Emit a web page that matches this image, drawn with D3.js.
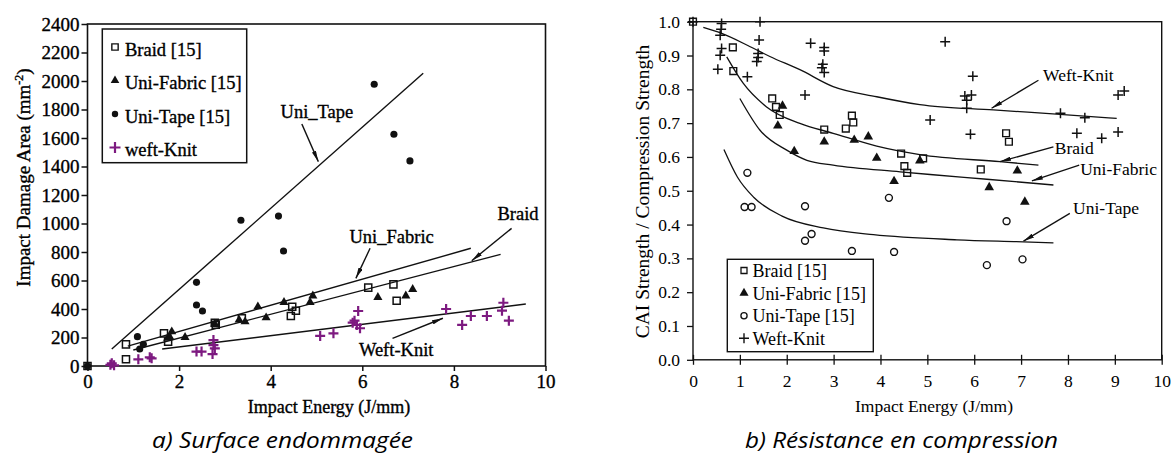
<!DOCTYPE html>
<html><head><meta charset="utf-8">
<script src="https://cdn.jsdelivr.net/npm/d3@7"></script>
<style>
body{margin:0;background:#fff}
svg{display:block}
text{font-family:"Liberation Serif","Times New Roman",serif;fill:#000}
.bold text, text.bold{stroke:#000;stroke-width:0.35px}
</style>
</head><body>
<svg id="c" width="1173" height="457"></svg>
<script>
// ===== Left chart: Impact Damage Area (mm^2) vs Impact Energy (J/mm) =====
const braidArea = [[0,0],[0.84,47],[0.84,152],[1.67,229],[1.76,171],[2.78,304],[2.8,290],[3.37,335],[4.44,351],[4.47,416],[4.55,388],[6.13,550],[6.68,573],[6.75,458]];
const fabricArea = [[1.75,195],[1.8,201],[1.84,241],[2.13,201],[2.78,295],[3.31,323],[3.44,311],[3.72,416],[3.9,339],[4.29,447],[4.86,447],[4.92,493],[6.34,482],[6.95,493],[7.1,538]];
const tapeArea = [[0,0],[1.09,206],[1.14,119],[1.22,152],[2.38,587],[2.38,428],[2.51,386],[3.35,1023],[4.17,1052],[4.28,807],[6.26,1977],[6.69,1626],[7.04,1439]];
const weftArea = [[0.5,8],[0.53,19],[0.58,5],[1.11,47],[1.36,61],[1.4,54],[2.38,101],[2.49,101],[2.73,84],[2.75,147],[2.75,182],[2.78,124],[5.08,211],[5.37,229],[5.79,304],[5.83,318],[5.88,288],[5.91,386],[5.95,265],[7.83,400],[8.18,288],[8.37,351],[8.72,351],[9.05,388],[9.08,444],[9.2,318]];
const tapeFit = [[0.53,119],[7.33,2054]];
const fabricFit = [[0.88,140],[8.37,826]];
const braidFit = [[1.0,112],[9.02,783]];
const weftFit = [[1.63,119],[9.57,435]];
const leftXTicks = [0,2,4,6,8,10];
const leftYTicks = [0,200,400,600,800,1000,1200,1400,1600,1800,2000,2200,2400];
const leftLegend = ["Braid [15]","Uni-Fabric [15]","Uni-Tape [15]","weft-Knit"];
// annotations: label position, arrow from, arrow to (data units)
const leftNotes = [
  {t:"Uni_Tape", at:[5.01,1743], from:[4.68,1698], to:[5.04,1434]},
  {t:"Uni_Fabric", at:[6.64,865], from:[6.17,826], to:[5.86,615]},
  {t:"Braid", at:[9.4,1025], from:[9.26,966], to:[8.39,739]},
  {t:"Weft-Knit", at:[6.74,70], from:[6.66,194], to:[7.76,335]}
];

// ===== Right chart: CAI Strength / Compression Strength =====
const braidCAI = [[0,1.0],[0.85,0.924],[0.86,0.854],[1.69,0.773],[1.77,0.748],[1.85,0.724],[2.8,0.681],[3.26,0.684],[3.39,0.722],[3.42,0.702],[4.44,0.61],[4.51,0.573],[4.57,0.553],[4.91,0.596],[6.14,0.563],[6.68,0.67],[6.74,0.645]];
const fabricCAI = [[1.81,0.692],[1.91,0.751],[2.16,0.617],[2.8,0.645],[3.44,0.65],[3.74,0.66],[3.92,0.597],[4.29,0.528],[4.84,0.589],[6.32,0.51],[6.92,0.559],[7.08,0.467]];
const tapeCAI = [[1.1,0.452],[1.16,0.553],[1.25,0.452],[2.39,0.454],[2.39,0.352],[2.53,0.372],[3.39,0.322],[4.18,0.479],[4.29,0.319],[6.27,0.28],[6.69,0.41],[7.03,0.297]];
const weftCAI = [[0,1.0],[0.53,0.859],[0.58,0.96],[0.58,0.901],[0.6,0.978],[0.61,0.995],[0.61,0.921],[1.16,0.837],[1.36,0.882],[1.39,0.894],[1.39,0.906],[1.41,0.946],[1.43,1.0],[2.39,0.783],[2.51,0.936],[2.75,0.864],[2.77,0.874],[2.8,0.85],[2.8,0.913],[2.8,0.924],[5.06,0.709],[5.38,0.941],[5.8,0.78],[5.84,0.768],[5.84,0.744],[5.92,0.667],[5.94,0.783],[5.97,0.839],[7.84,0.729],[8.19,0.67],[8.36,0.716],[8.72,0.655],[9.07,0.674],[9.07,0.783],[9.2,0.795]];
const weftCurve = [[0.22,0.983],[0.6,0.966],[1.22,0.926],[1.64,0.897],[2.28,0.858],[2.99,0.808],[3.92,0.778],[4.84,0.755],[6.41,0.739],[7.83,0.726],[9.04,0.714]];
const braidCurve = [[0.72,0.896],[1.07,0.818],[1.57,0.748],[2.28,0.699],[2.99,0.67],[3.92,0.632],[4.84,0.607],[6.55,0.586],[7.37,0.576]];
const fabricCurve = [[1.0,0.773],[1.43,0.679],[2.0,0.62],[2.43,0.59],[2.99,0.576],[4.42,0.556],[5.06,0.548],[6.27,0.534],[7.69,0.517]];
const tapeCurve = [[0.66,0.622],[0.95,0.54],[1.3,0.48],[1.9,0.425],[2.78,0.39],[3.85,0.37],[5.63,0.355],[7.05,0.349],[7.69,0.346]];
const rightXTicks = [0,1,2,3,4,5,6,7,8,9,10];
const rightYTicks = [0,0.1,0.2,0.3,0.4,0.5,0.6,0.7,0.8,0.9,1.0];
const rightLegend = ["Braid [15]","Uni-Fabric [15]","Uni-Tape [15]","Weft-Knit"];
const rightNotes = [
  {t:"Weft-Knit", at:[7.47,0.824], from:[7.37,0.827], to:[6.37,0.744]},
  {t:"Braid", at:[7.72,0.61], from:[7.69,0.63], to:[6.55,0.586]},
  {t:"Uni-Fabric", at:[8.26,0.548], from:[8.24,0.576], to:[7.23,0.529]},
  {t:"Uni-Tape", at:[8.11,0.43], from:[8.04,0.433], to:[7.05,0.351]}
];

const captions = ["a) Surface endommagée","b) Résistance en compression"];

const svg = d3.select("#c");
const ink = "#111", purple = "#7d1a80";

const defs = svg.append("defs");
defs.append("marker").attr("id","ah").attr("viewBox","0 0 11 4.4")
  .attr("refX",11).attr("refY",2.2).attr("markerWidth",11).attr("markerHeight",4.4)
  .attr("markerUnits","userSpaceOnUse").attr("orient","auto")
  .append("path").attr("d","M0,0L11,2.2L0,4.4Z").attr("fill",ink);

const plusPath = s => `M${-s},0H${s}M0,${-s}V${s}`;

function drawMarkers(g, data, x, y, kind, opt){
  const sel = g.append("g").selectAll("path").data(data).join("path")
    .attr("transform", d => `translate(${x(d[0])},${y(d[1])})`);
  if(kind==="square") sel.attr("d", d3.symbol(d3.symbolSquare, opt.size)()).attr("fill","none").attr("stroke",ink).attr("stroke-width",opt.sw||1.4);
  if(kind==="tri") sel.attr("d", d3.symbol(d3.symbolTriangle, opt.size)()).attr("fill",ink);
  if(kind==="dot") sel.attr("d", d3.symbol(d3.symbolCircle, opt.size)()).attr("fill",ink);
  if(kind==="ring") sel.attr("d", d3.symbol(d3.symbolCircle, opt.size)()).attr("fill","none").attr("stroke",ink).attr("stroke-width",1.4);
  if(kind==="plus") sel.attr("d", plusPath(opt.r)).attr("fill","none").attr("stroke",opt.color).attr("stroke-width",opt.sw);
}

// ---------------- LEFT ----------------
const xL = d3.scaleLinear([0,10],[87.5,545.5]);
const yL = d3.scaleLinear([0,2400],[366,24]);
const gL = svg.append("g").attr("class","bold");

const axL = gL.append("g").attr("transform","translate(87.5,0)")
  .call(d3.axisLeft(yL).tickValues(leftYTicks).tickSize(6).tickPadding(2).tickFormat(d3.format("d")));
const axB = gL.append("g").attr("transform","translate(0,366)")
  .call(d3.axisBottom(xL).tickValues(leftXTicks).tickSize(5).tickPadding(4).tickFormat(d3.format("d")));
[axL,axB].forEach(a=>{a.select(".domain").remove();a.selectAll("line").attr("stroke",ink).attr("stroke-width",1.5);
  a.selectAll("text").style("font-family",'"Liberation Serif",serif').style("font-size","19px").attr("fill","#000");});
gL.append("rect").attr("x",xL(0)).attr("y",yL(2400)).attr("width",xL(10)-xL(0)).attr("height",yL(0)-yL(2400))
  .attr("fill","none").attr("stroke",ink).attr("stroke-width",1.6);

const lineL = d3.line().x(d=>xL(d[0])).y(d=>yL(d[1]));
[tapeFit,fabricFit,braidFit,weftFit].forEach(f=>gL.append("path").attr("d",lineL(f)).attr("fill","none").attr("stroke",ink).attr("stroke-width",1.4));

drawMarkers(gL, weftArea, xL, yL, "plus", {r:5, color:purple, sw:2.2});
drawMarkers(gL, braidArea, xL, yL, "square", {size:50, sw:1.5});
drawMarkers(gL, fabricArea, xL, yL, "tri", {size:36});
drawMarkers(gL, tapeArea, xL, yL, "dot", {size:40});

leftNotes.forEach(n=>{
  gL.append("text").attr("x",xL(n.at[0])).attr("y",yL(n.at[1])).attr("text-anchor","middle").style("font-size","18.5px").text(n.t);
  gL.append("line").attr("x1",xL(n.from[0])).attr("y1",yL(n.from[1])).attr("x2",xL(n.to[0])).attr("y2",yL(n.to[1]))
    .attr("stroke",ink).attr("stroke-width",1.4).attr("marker-end","url(#ah)");
});

// legend left
gL.append("rect").attr("x",102.3).attr("y",29).attr("width",144.4).attr("height",133.7).attr("fill","#fff").attr("stroke",ink).attr("stroke-width",1.5);
const lgL = gL.append("g").selectAll("g").data(leftLegend).join("g").attr("transform",(d,i)=>`translate(115,${47+i*33.5})`);
lgL.append("text").attr("x",10).attr("y",8.5).style("font-size","18.5px").text(d=>d);
lgL.filter((d,i)=>i===0).append("path").attr("d",d3.symbol(d3.symbolSquare,40)()).attr("fill","none").attr("stroke",ink).attr("stroke-width",1.4);
lgL.filter((d,i)=>i===1).append("path").attr("d",d3.symbol(d3.symbolTriangle,32)()).attr("fill",ink);
lgL.filter((d,i)=>i===2).append("path").attr("d",d3.symbol(d3.symbolCircle,32)()).attr("fill",ink);
lgL.filter((d,i)=>i===3).append("path").attr("d",plusPath(5.5)).attr("stroke",purple).attr("stroke-width",2.2);

// axis titles left
gL.append("text").attr("x",329).attr("y",413).attr("text-anchor","middle").style("font-size","18px").text("Impact Energy (J/mm)");
const ytL = gL.append("text").attr("transform","translate(30,177.5) rotate(-90)").attr("text-anchor","middle").style("font-size","19px");
ytL.append("tspan").text("Impact Damage Area (mm");
ytL.append("tspan").attr("dy",-7).style("font-size","12px").text("-2");
ytL.append("tspan").attr("dy",7).text(")");

// ---------------- RIGHT ----------------
const xR = d3.scaleLinear([0,10],[693,1161.7]);
const yR = d3.scaleLinear([0,1],[359.8,21.7]);
const gR = svg.append("g");
const axRL = gR.append("g").attr("transform",`translate(${xR(0)},0)`)
  .call(d3.axisLeft(yR).tickValues(rightYTicks).tickSize(6).tickPadding(7).tickFormat(d3.format(".1f")));
const axRB = gR.append("g").attr("transform",`translate(0,${yR(0)})`)
  .call(d3.axisBottom(xR).tickValues(rightXTicks).tickSize(5).tickPadding(10).tickFormat(d3.format("d")));
axRB.selectAll(".tick line").attr("y1",-5).attr("y2",5);
[axRL,axRB].forEach(a=>{a.select(".domain").remove();a.selectAll("line").attr("stroke",ink).attr("stroke-width",1.3);
  a.selectAll("text").style("font-family",'"Liberation Serif",serif').style("font-size","17.5px").attr("fill","#000");});
gR.append("rect").attr("x",xR(0)).attr("y",yR(1)).attr("width",xR(10)-xR(0)).attr("height",yR(0)-yR(1))
  .attr("fill","none").attr("stroke",ink).attr("stroke-width",1.4);

const curveR = d3.line().x(d=>xR(d[0])).y(d=>yR(d[1])).curve(d3.curveMonotoneX);
[weftCurve,braidCurve,fabricCurve,tapeCurve].forEach(c=>gR.append("path").attr("d",curveR(c)).attr("fill","none").attr("stroke",ink).attr("stroke-width",1.3));

drawMarkers(gR, weftCAI, xR, yR, "plus", {r:5, color:ink, sw:1.5});
drawMarkers(gR, braidCAI, xR, yR, "square", {size:46, sw:1.4});
drawMarkers(gR, fabricCAI, xR, yR, "tri", {size:40});
drawMarkers(gR, tapeCAI, xR, yR, "ring", {size:38});

rightNotes.forEach(n=>{
  gR.append("text").attr("x",xR(n.at[0])).attr("y",yR(n.at[1])).style("font-size","17.5px").text(n.t);
  gR.append("line").attr("x1",xR(n.from[0])).attr("y1",yR(n.from[1])).attr("x2",xR(n.to[0])).attr("y2",yR(n.to[1]))
    .attr("stroke",ink).attr("stroke-width",1.3).attr("marker-end","url(#ah)");
});

gR.append("rect").attr("x",727.3).attr("y",259.3).attr("width",146).attr("height",92.4).attr("fill","#fff").attr("stroke",ink).attr("stroke-width",1.4);
const lgR = gR.append("g").selectAll("g").data(rightLegend).join("g").attr("transform",(d,i)=>`translate(744,${270.5+i*22.6})`);
lgR.append("text").attr("x",8.5).attr("y",6.5).style("font-size","18px").text(d=>d);
lgR.filter((d,i)=>i===0).append("path").attr("d",d3.symbol(d3.symbolSquare,36)()).attr("fill","none").attr("stroke",ink).attr("stroke-width",1.3);
lgR.filter((d,i)=>i===1).append("path").attr("d",d3.symbol(d3.symbolTriangle,36)()).attr("fill",ink);
lgR.filter((d,i)=>i===2).append("path").attr("d",d3.symbol(d3.symbolCircle,30)()).attr("fill","none").attr("stroke",ink).attr("stroke-width",1.3);
lgR.filter((d,i)=>i===3).append("path").attr("d",plusPath(5)).attr("stroke",ink).attr("stroke-width",1.4);

gR.append("text").attr("x",934).attr("y",412).attr("text-anchor","middle").style("font-size","17.5px").text("Impact Energy (J/mm)");
gR.append("text").attr("transform","translate(649,191.5) rotate(-90)").attr("text-anchor","middle").style("font-size","19.5px").text("CAI Strength / Compression Strength");

// ---------------- CAPTIONS ----------------
svg.selectAll("text.cap").data(captions).join("text").attr("class","cap")
  .attr("x",(d,i)=>i===0?282.5:901.5).attr("y",448).attr("text-anchor","middle")
  .attr("textLength",(d,i)=>i===0?261:313).attr("lengthAdjust","spacingAndGlyphs")
  .style("font-family",'"Open Sans","Noto Sans",sans-serif').style("font-style","italic").style("font-size","21px").attr("fill","#222")
  .text(d=>d);
</script>
</body></html>
